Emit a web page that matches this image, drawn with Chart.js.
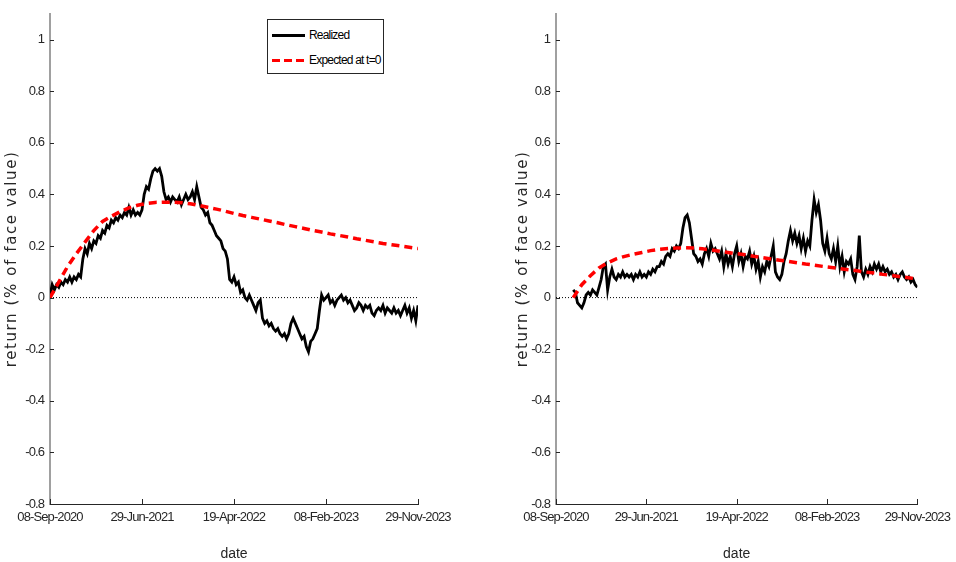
<!DOCTYPE html>
<html>
<head>
<meta charset="utf-8">
<script src="https://cdn.jsdelivr.net/npm/chart.js@4.4.0/dist/chart.umd.min.js"></script>
<style>
  body { margin: 0; background: #fff; }
  #wrap { position: relative; width: 956px; height: 562px; overflow: hidden; }
  canvas { position: absolute; top: 0; }
  #leftChart { left: 0; }
  #rightChart { left: 478px; }
  #legend {
    position: absolute; left: 267px; top: 19px; width: 115px; height: 53px;
    border: 1px solid #262626; background: #fff;
    font: 12px 'Liberation Sans', Arial, sans-serif; letter-spacing: -0.8px; color: #000;
  }
  #legend .row { position: absolute; left: 4px; height: 16px; line-height: 16px; white-space: nowrap; }
  #legend .sw { display: inline-block; width: 33px; height: 3px; vertical-align: middle; margin-right: 4px; }
  #legend .solid { background: #000; }
  #legend .dash { background: repeating-linear-gradient(90deg, #ff0000 0 8px, transparent 8px 12px); }
</style>
</head>
<body>
<div id="wrap">
  <canvas id="leftChart" width="478" height="562"></canvas>
  <canvas id="rightChart" width="478" height="562"></canvas>
  <div id="legend">
    <div class="row" style="top:7px"><span class="sw solid"></span>Realized</div>
    <div class="row" style="top:32px"><span class="sw dash"></span>Expected at t=0</div>
  </div>
</div>
<script>
// x axis: days since 08-Sep-2020, series sampled weekly (realized) or every 4 weeks (expected)
const xTickDays = [0, 294, 588, 882, 1176];
const xTickLabels = ['08-Sep-2020', '29-Jun-2021', '19-Apr-2022', '08-Feb-2023', '29-Nov-2023'];
const yTicks = [-0.8, -0.6, -0.4, -0.2, 0, 0.2, 0.4, 0.6, 0.8, 1];
const xTitle = 'date';
const yTitle = 'return (% of face value)';

const leftStartWeek = 0;
const rightStartWeek = 8;

// left panel, realized (weekly)
const realizedLeft = [
  0.01, 0.05, 0.03, 0.05, 0.04, 0.06, 0.05, 0.07, 0.06, 0.08,
  0.06, 0.08, 0.07, 0.09, 0.08, 0.15, 0.19, 0.17, 0.21, 0.19,
  0.22, 0.21, 0.24, 0.23, 0.26, 0.25, 0.28, 0.27, 0.30, 0.29,
  0.31, 0.30, 0.32, 0.31, 0.33, 0.32, 0.35, 0.32, 0.34, 0.32,
  0.33, 0.32, 0.34, 0.40, 0.43, 0.42, 0.46, 0.49, 0.50, 0.49,
  0.50, 0.47, 0.41, 0.38, 0.39, 0.37, 0.39, 0.38, 0.37, 0.39,
  0.36, 0.38, 0.40, 0.38, 0.39, 0.41, 0.38, 0.43, 0.39, 0.35,
  0.34, 0.32, 0.33, 0.29, 0.28, 0.26, 0.24, 0.23, 0.22, 0.19,
  0.18, 0.15, 0.07, 0.06, 0.08, 0.05, 0.06, 0.02, 0.03, 0.00,
  -0.01, 0.01, -0.01, -0.03, -0.05, -0.02, -0.01, -0.08, -0.10, -0.09,
  -0.11, -0.10, -0.12, -0.13, -0.12, -0.14, -0.15, -0.14, -0.16, -0.14,
  -0.10, -0.08, -0.10, -0.12, -0.14, -0.16, -0.15, -0.19, -0.21, -0.17,
  -0.16, -0.14, -0.12, -0.05, 0.01, -0.01, 0.00, 0.01, -0.02, -0.01,
  -0.03, -0.01, 0.00, 0.01, -0.01, 0.00, -0.02, -0.01, -0.03, -0.05,
  -0.04, -0.02, -0.03, -0.05, -0.03, -0.04, -0.03, -0.06, -0.07, -0.05,
  -0.04, -0.05, -0.03, -0.06, -0.04, -0.05, -0.06, -0.04, -0.06, -0.05,
  -0.07, -0.05, -0.03, -0.06, -0.04, -0.08, -0.05, -0.09, -0.03
];

// left panel, expected at t=0 (every 4 weeks)
const expectedLeft = [
  0.00, 0.06, 0.12, 0.17, 0.215, 0.26, 0.295, 0.315, 0.333, 0.348,
  0.358, 0.365, 0.369, 0.370, 0.370, 0.368, 0.364, 0.357, 0.350, 0.343,
  0.335, 0.326, 0.318, 0.311, 0.304, 0.297, 0.290, 0.282, 0.275, 0.268,
  0.260, 0.254, 0.247, 0.241, 0.235, 0.228, 0.222, 0.216, 0.210, 0.205,
  0.200, 0.195, 0.190
];

// right panel, realized (weekly, from week 8)
const realizedRight = [
  0.03, 0.02, -0.02, -0.03, -0.04, -0.02, 0.01, 0.02, 0.01, 0.03,
  0.02, 0.01, 0.04, 0.07, 0.12, 0.13, 0.03, 0.08, 0.11, 0.08,
  0.07, 0.09, 0.08, 0.10, 0.08, 0.09, 0.08, 0.09, 0.07, 0.09,
  0.08, 0.10, 0.08, 0.09, 0.08, 0.10, 0.09, 0.11, 0.10, 0.12,
  0.12, 0.14, 0.13, 0.16, 0.17, 0.16, 0.19, 0.18, 0.20, 0.19,
  0.21, 0.27, 0.31, 0.32, 0.29, 0.23, 0.17, 0.16, 0.14, 0.15,
  0.13, 0.17, 0.19, 0.16, 0.21, 0.18, 0.19, 0.17, 0.15, 0.18,
  0.12, 0.17, 0.13, 0.16, 0.12, 0.17, 0.20, 0.14, 0.17, 0.12,
  0.16, 0.15, 0.18, 0.13, 0.16, 0.11, 0.14, 0.08, 0.12, 0.10,
  0.14, 0.12, 0.16, 0.20, 0.10, 0.08, 0.07, 0.09, 0.14, 0.17,
  0.22, 0.26, 0.22, 0.25, 0.21, 0.24, 0.19, 0.23, 0.18, 0.22,
  0.20, 0.30, 0.38, 0.33, 0.36, 0.30, 0.21, 0.18, 0.23, 0.17,
  0.15, 0.19, 0.14, 0.20, 0.12, 0.16, 0.10, 0.14, 0.13, 0.15,
  0.09, 0.07, 0.12, 0.24, 0.10, 0.08, 0.11, 0.09, 0.12, 0.10,
  0.13, 0.11, 0.13, 0.10, 0.12, 0.10, 0.11, 0.09, 0.10, 0.08,
  0.09, 0.07, 0.09, 0.10, 0.08, 0.07, 0.08, 0.06, 0.07, 0.05,
  0.04
];

// right panel, expected at t=0 (every 4 weeks, from week 8)
const expectedRight = [
  0.00, 0.05, 0.085, 0.115, 0.135, 0.150, 0.160, 0.168, 0.175, 0.182,
  0.187, 0.190, 0.192, 0.193, 0.192, 0.189, 0.185, 0.180, 0.175, 0.170,
  0.166, 0.160, 0.155, 0.150, 0.145, 0.140, 0.135, 0.130, 0.126, 0.121,
  0.117, 0.112, 0.108, 0.104, 0.099, 0.095, 0.090, 0.086, 0.081, 0.077,
  0.072
];

const zeroLine = [0, 0];

function toPoints(values, startWeek, everyWeeks) {
  return values.map((v, i) => ({ x: (startWeek + i * everyWeeks) * 7, y: v }));
}

const tickFont = { family: "'Liberation Sans', Arial, sans-serif", size: 13 };
const inkColor = '#262626';

// narrower tick text (the original uses a condensed face)
const narrowText = {
  id: 'narrowText',
  beforeUpdate(chart) { chart.ctx.letterSpacing = '-0.9px'; },
  beforeDraw(chart) { chart.ctx.letterSpacing = '-0.9px'; }
};

// inward tick marks and axis titles, like the original figure
const axisDecor = {
  id: 'axisDecor',
  afterDraw(chart, args, opts) {
    const { ctx, chartArea, scales } = chart;
    ctx.save();
    ctx.strokeStyle = inkColor;
    ctx.lineWidth = 1;
    ctx.beginPath();
    scales.y.ticks.forEach(t => {
      const y = Math.round(scales.y.getPixelForValue(t.value)) + 0.5;
      ctx.moveTo(chartArea.left, y);
      ctx.lineTo(chartArea.left + 4, y);
    });
    scales.x.ticks.forEach(t => {
      const x = Math.round(scales.x.getPixelForValue(t.value)) + 0.5;
      ctx.moveTo(x, chartArea.bottom);
      ctx.lineTo(x, chartArea.bottom - 5);
    });
    ctx.stroke();

    ctx.fillStyle = inkColor;
    ctx.textAlign = 'center';
    ctx.textBaseline = 'middle';
    ctx.letterSpacing = '0px';
    ctx.font = "14px 'Liberation Sans', Arial, sans-serif";
    ctx.fillText(xTitle, (chartArea.left + chartArea.right) / 2, 554);

    ctx.translate(chartArea.left - opts.yTitleGap, (chartArea.top + chartArea.bottom) / 2);
    ctx.rotate(-Math.PI / 2);
    ctx.letterSpacing = '1.6px';
    ctx.font = "15px 'DejaVu Sans', Verdana, sans-serif";
    ctx.fillText(yTitle, 0, 0);
    ctx.restore();
  }
};

function makeChart(id, realized, expected, startWeek, yAxisWidth, yTitleGap, pad) {
  const ctx = document.getElementById(id).getContext('2d');
  return new Chart(ctx, {
    type: 'line',
    data: {
      datasets: [
        {
          label: 'Expected at t=0',
          data: toPoints(expected, startWeek, 4),
          borderColor: '#ff0000',
          borderWidth: 3.5,
          borderDash: [8, 5],
          pointRadius: 0,
          fill: false
        },
        {
          label: 'Realized',
          data: toPoints(realized, startWeek, 1),
          borderColor: '#000000',
          borderWidth: 2.8,
          pointRadius: 0,
          fill: false
        },
        {
          label: 'zero',
          data: [{ x: xTickDays[0], y: zeroLine[0] }, { x: xTickDays[xTickDays.length - 1], y: zeroLine[1] }],
          borderColor: '#000000',
          borderWidth: 1,
          borderDash: [1, 2],
          pointRadius: 0,
          fill: false
        }
      ]
    },
    options: {
      responsive: false,
      animation: false,
      layout: { padding: pad },
      plugins: {
        legend: { display: false },
        tooltip: { enabled: false },
        axisDecor: { yTitleGap: yTitleGap }
      },
      scales: {
        x: {
          type: 'linear',
          min: xTickDays[0],
          max: xTickDays[xTickDays.length - 1],
          afterBuildTicks: s => { s.ticks = xTickDays.map(v => ({ value: v })); },
          afterFit: s => { s.height = 58; },
          grid: { display: false, drawTicks: false, tickLength: 0 },
          border: { display: true, color: inkColor, width: 1 },
          ticks: {
            color: inkColor,
            font: tickFont,
            padding: 6,
            maxRotation: 0,
            autoSkip: false,
            callback: v => xTickLabels[xTickDays.indexOf(v)]
          }
        },
        y: {
          min: -0.8,
          max: 1.1,
          afterBuildTicks: s => { s.ticks = yTicks.map(v => ({ value: v })); },
          afterFit: s => { s.width = yAxisWidth; },
          grid: { display: false, drawTicks: false, tickLength: 0 },
          border: { display: true, color: '#a0a0a0', width: 2 },
          ticks: {
            color: inkColor,
            font: tickFont,
            padding: 6,
            callback: v => String(Math.round(v * 10) / 10)
          }
        }
      }
    },
    plugins: [narrowText, axisDecor]
  });
}

makeChart('leftChart', realizedLeft, expectedLeft, leftStartWeek, 50, 38, { left: 0, right: 60, top: 10, bottom: 0 });
makeChart('rightChart', realizedRight, expectedRight, rightStartWeek, 78, 33, { left: 0, right: 33, top: 10, bottom: 0 });
</script>
</body>
</html>
